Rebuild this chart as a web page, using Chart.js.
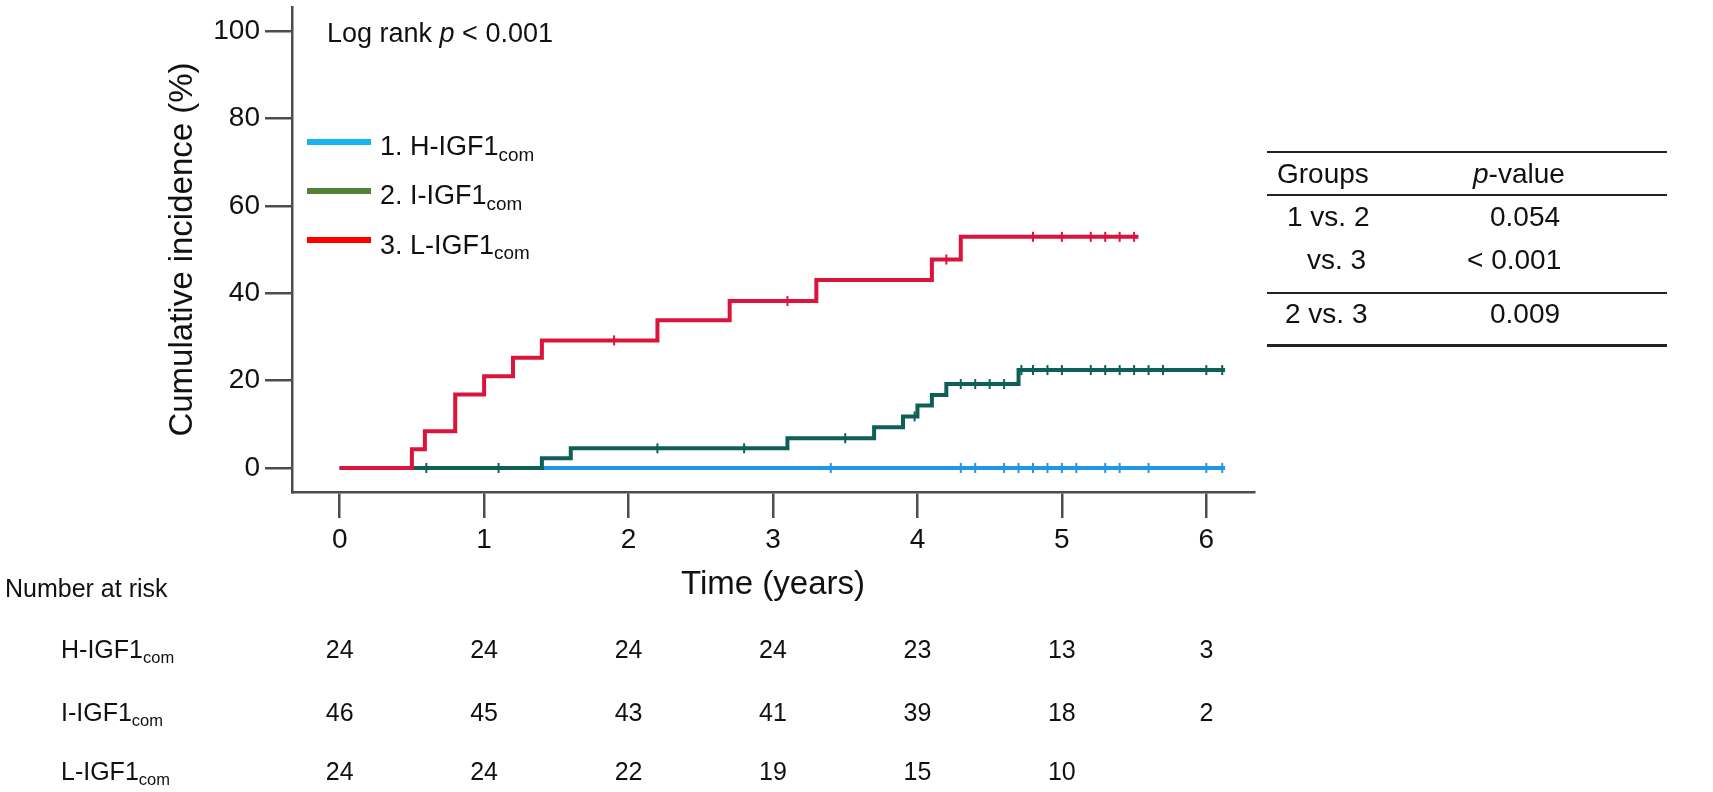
<!DOCTYPE html>
<html>
<head>
<meta charset="utf-8">
<script src="https://cdn.jsdelivr.net/npm/chart.js@4.4.0/dist/chart.umd.min.js"></script>
<style>
  body { margin: 0; background: #fff; }
  #wrap { position: relative; width: 1713px; height: 792px; font-family: "Liberation Sans", Arial, sans-serif; color: #111; }
  #wrap canvas { position: absolute; left: 0; top: 0; }
  .t { position: absolute; white-space: nowrap; line-height: 1; }
  .sub { font-size: 0.66em; position: relative; top: 0.3em; }
  .lg .sub { font-size: 0.7em; }
  .key { position: absolute; left: 307px; width: 64px; height: 6.5px; }
  .rule { position: absolute; left: 1267px; width: 400px; height: 2.5px; background: #222; }
</style>
</head>
<body>
<div id="wrap">
  <canvas id="km" width="1713" height="792"></canvas>

  <div class="t" style="left:327px; top:20px; font-size:27px;">Log rank <i>p</i> &lt; 0.001</div>

  <div class="key" style="top:138.5px; background:#18b4ee;"></div>
  <div class="key" style="top:187.5px; background:#538135;"></div>
  <div class="key" style="top:236.8px; background:#ff0000;"></div>
  <div class="t lg" style="left:380px; top:133px; font-size:27px;">1. H-IGF1<span class="sub">com</span></div>
  <div class="t lg" style="left:380px; top:182px; font-size:27px;">2. I-IGF1<span class="sub">com</span></div>
  <div class="t lg" style="left:380px; top:231.5px; font-size:27px;">3. L-IGF1<span class="sub">com</span></div>

  <div class="rule" style="top:150.5px;"></div>
  <div class="rule" style="top:193.8px;"></div>
  <div class="rule" style="top:291.5px;"></div>
  <div class="rule" style="top:344.3px;"></div>
  <div class="t" style="left:1277px; top:159.6px; font-size:28px;">Groups</div>
  <div class="t" style="left:1473px; top:159.6px; font-size:28px;"><i>p</i>-value</div>
  <div class="t" style="left:1287px; top:203px; font-size:28px;">1 vs. 2</div>
  <div class="t" style="left:1490px; top:203px; font-size:28px;">0.054</div>
  <div class="t" style="left:1307px; top:246.3px; font-size:28px;">vs. 3</div>
  <div class="t" style="left:1467px; top:246.3px; font-size:28px;">&lt; 0.001</div>
  <div class="t" style="left:1285px; top:299.6px; font-size:28px;">2 vs. 3</div>
  <div class="t" style="left:1490px; top:299.6px; font-size:28px;">0.009</div>

  <div class="t" style="left:5px; top:575.8px; font-size:25px;">Number at risk</div>
  <div class="t" style="left:61px; top:636.8px; font-size:25px;">H-IGF1<span class="sub">com</span></div>
  <div class="t" style="left:61px; top:699.8px; font-size:25px;">I-IGF1<span class="sub">com</span></div>
  <div class="t" style="left:61px; top:758.8px; font-size:25px;">L-IGF1<span class="sub">com</span></div>
</div>

<script>
const xTicks = [0, 1, 2, 3, 4, 5, 6];
const yTicks = [0, 20, 40, 60, 80, 100];

// H-IGF1com: no events
const hTime = [0];
const hInc = [0];
const hCensor = [3.4, 4.3, 4.4, 4.6, 4.7, 4.8, 4.9, 5.0, 5.1, 5.3, 5.4, 5.6, 6.0, 6.11];
const hEnd = 6.13;

// I-IGF1com
const iTime = [0, 1.4, 1.6, 3.1, 3.7, 3.9, 4.0, 4.1, 4.2, 4.7];
const iInc = [0, 2.2, 4.5, 6.8, 9.3, 11.8, 14.3, 16.7, 19.2, 22.4];
const iCensor = [0.6, 1.1, 2.2, 2.8, 3.5, 3.98, 4.3, 4.4, 4.5, 4.6, 4.72, 4.8, 4.9, 5.0,
                 5.2, 5.3, 5.4, 5.5, 5.6, 5.7, 6.0, 6.11];
const iEnd = 6.13;

// L-IGF1com
const lTime = [0, 0.5, 0.59, 0.8, 1.0, 1.2, 1.4, 2.2, 2.7, 3.3, 4.1, 4.3];
const lInc = [0, 4.3, 8.4, 16.8, 21.0, 25.2, 29.2, 33.8, 38.2, 43.0, 47.7, 52.9];
const lCensor = [1.9, 3.1, 4.2, 4.8, 5.0, 5.2, 5.3, 5.4, 5.5];
const lEnd = 5.53;

// number at risk, one value per x tick
const hRisk = [24, 24, 24, 24, 23, 13, 3];
const iRisk = [46, 45, 43, 41, 39, 18, 2];
const lRisk = [24, 24, 22, 19, 15, 10, null];
const riskRowY = [649, 712, 771];

const axisColor = '#4d4d4d';
Chart.defaults.font.family = '"Liberation Sans", Arial, sans-serif';
Chart.defaults.color = '#111';

// step points plus censor marks (c:true) sitting on the current level
function stepSeries(times, inc, censor, end) {
  const pts = times.map((t, i) => ({ x: t, y: inc[i], c: false }));
  censor.forEach(t => {
    let k = 0;
    while (k + 1 < times.length && times[k + 1] <= t) k++;
    pts.push({ x: t, y: inc[k], c: true });
  });
  pts.push({ x: end, y: inc[inc.length - 1], c: false });
  return pts.sort((a, b) => a.x - b.x);
}

function curve(label, data, color, order) {
  return {
    label: label,
    data: data,
    order: order,
    borderColor: color,
    borderWidth: 4,
    stepped: true,
    fill: false,
    pointStyle: 'line',
    pointRotation: 90,
    pointBorderColor: color,
    pointBorderWidth: 2,
    pointRadius: c => (c.raw && c.raw.c) ? 5 : 0,
    pointHoverRadius: 0
  };
}

const riskTable = {
  id: 'riskTable',
  afterDraw(chart) {
    if (chart._riskDone) return;
    chart._riskDone = true;
    const wrap = document.getElementById('wrap');
    const xs = chart.scales.x;
    [hRisk, iRisk, lRisk].forEach((row, r) => {
      row.forEach((n, i) => {
        if (n === null) return;
        const el = document.createElement('div');
        el.className = 't';
        el.style.fontSize = '25px';
        el.style.left = xs.getPixelForValue(xTicks[i]) + 'px';
        el.style.top = (riskRowY[r] - 12.2) + 'px';
        el.style.transform = 'translateX(-50%)';
        el.textContent = n;
        wrap.appendChild(el);
      });
    });
  }
};

new Chart(document.getElementById('km'), {
  type: 'line',
  data: {
    datasets: [
      curve('3. L-IGF1com', stepSeries(lTime, lInc, lCensor, lEnd), '#dc143c', 0),
      curve('2. I-IGF1com', stepSeries(iTime, iInc, iCensor, iEnd), '#0e5f58', 1),
      curve('1. H-IGF1com', stepSeries(hTime, hInc, hCensor, hEnd), '#2196e6', 2)
    ]
  },
  options: {
    responsive: false,
    animation: false,
    events: [],
    layout: { padding: { left: 0, top: 7, right: 459, bottom: 160 } },
    plugins: { legend: { display: false }, tooltip: { enabled: false } },
    scales: {
      x: {
        type: 'linear',
        min: -0.33,
        max: 6.33,
        afterBuildTicks: s => { s.ticks = xTicks.map(v => ({ value: v })); },
        afterFit: s => { s.height = 140; s.paddingLeft = 0; s.paddingRight = 0; },
        grid: { drawOnChartArea: false, drawTicks: true, tickLength: 26, color: axisColor, lineWidth: 2.5 },
        border: { color: axisColor, width: 2.5 },
        ticks: { font: { size: 28 }, color: '#111', padding: 5, maxRotation: 0 },
        title: { display: true, text: 'Time (years)', font: { size: 33 }, color: '#111', padding: { top: 0, bottom: 27 } }
      },
      y: {
        min: -5.5,
        max: 105.5,
        afterBuildTicks: s => { s.ticks = yTicks.map(v => ({ value: v })); },
        afterFit: s => { s.width = 292; s.paddingTop = 0; s.paddingBottom = 0; },
        grid: { drawOnChartArea: false, drawTicks: true, tickLength: 27, color: axisColor, lineWidth: 2.5 },
        border: { color: axisColor, width: 2.5 },
        ticks: { font: { size: 28 }, color: '#111', padding: 5 },
        title: { display: true, text: 'Cumulative incidence (%)', font: { size: 33 }, color: '#111', padding: { top: 163, bottom: 0 } }
      }
    }
  },
  plugins: [riskTable]
});
</script>
</body>
</html>
